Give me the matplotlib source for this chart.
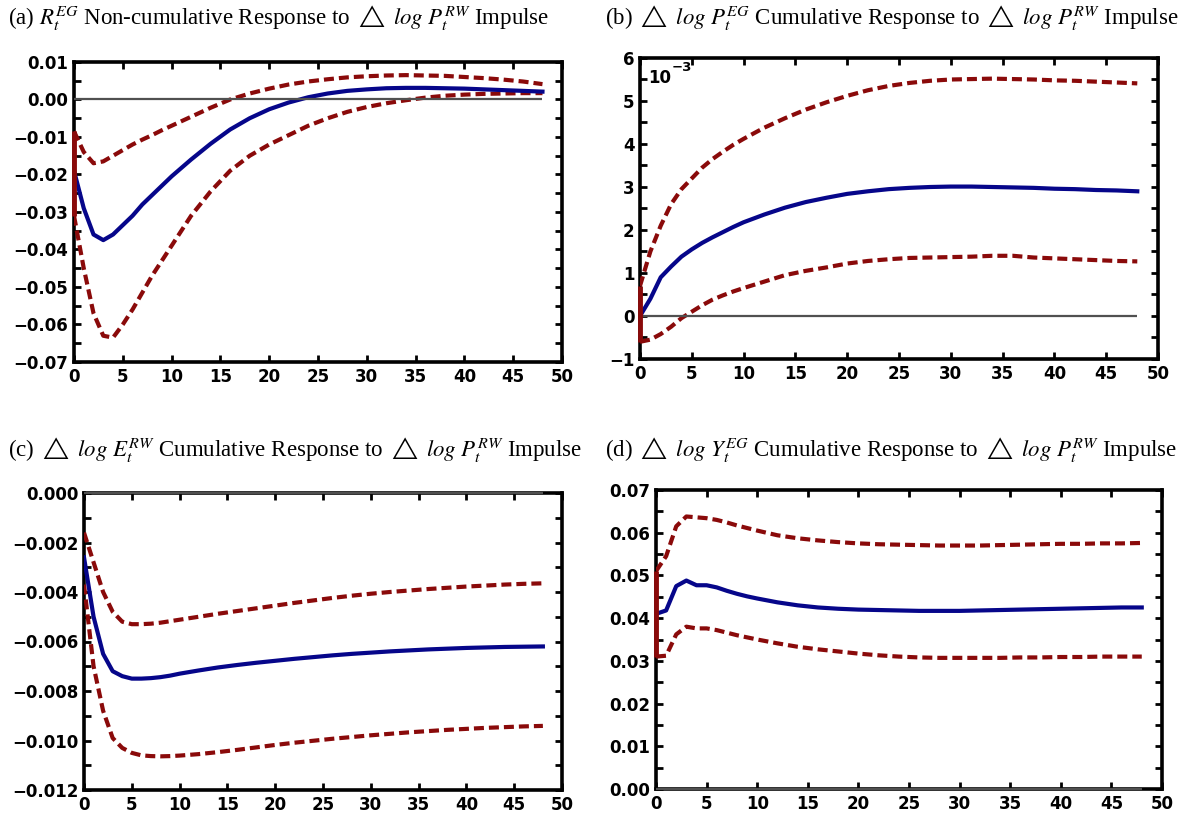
import numpy as np
import matplotlib.pyplot as plt
from matplotlib.ticker import MultipleLocator, FuncFormatter

# -----------------------------
# Datos de las funciones impulso-respuesta
# -----------------------------

horizonte = [0, 1, 2, 3, 4, 5, 6, 7, 8, 9, 10, 12, 14, 16, 18, 20, 22, 24,
             26, 28, 30, 32, 34, 36, 38, 40, 42, 44, 46, 48]

# (a) R^EG, no acumulada
media_a = [-0.019, -0.029, -0.036, -0.0375, -0.036, -0.0335, -0.031, -0.028,
           -0.0255, -0.023, -0.0205, -0.016, -0.0118, -0.008, -0.005, -0.0026,
           -0.0008, 0.0006, 0.0016, 0.0023, 0.0027, 0.003, 0.0031, 0.0031,
           0.003, 0.0029, 0.0027, 0.0025, 0.0023, 0.0021]
sup_a = [-0.0085, -0.014, -0.017, -0.0165, -0.015, -0.0135, -0.012, -0.0107,
         -0.0095, -0.0082, -0.007, -0.0046, -0.0022, 0.0, 0.0016, 0.0029,
         0.004, 0.0048, 0.0054, 0.0059, 0.0062, 0.0064, 0.0065, 0.0064,
         0.0063, 0.006, 0.0057, 0.0053, 0.0048, 0.0041]
inf_a = [-0.031, -0.045, -0.057, -0.063, -0.0635, -0.060, -0.056, -0.0515,
         -0.047, -0.043, -0.039, -0.031, -0.0245, -0.019, -0.015, -0.012,
         -0.0095, -0.007, -0.005, -0.0033, -0.002, -0.001, -0.0002, 0.0005,
         0.001, 0.0013, 0.0015, 0.0016, 0.0017, 0.0017]

# (b) log P^EG, acumulada (x 10^-3)
media_b = [0.0, 0.4, 0.9, 1.15, 1.38, 1.55, 1.7, 1.83, 1.95, 2.07, 2.18, 2.36,
           2.52, 2.65, 2.75, 2.84, 2.9, 2.95, 2.98, 3.0, 3.01, 3.01, 3.0,
           2.99, 2.98, 2.96, 2.95, 2.93, 2.92, 2.9]
sup_b = [0.7, 1.5, 2.1, 2.6, 2.95, 3.2, 3.45, 3.65, 3.82, 3.98, 4.12, 4.38,
         4.6, 4.8, 4.97, 5.12, 5.25, 5.35, 5.42, 5.47, 5.5, 5.51, 5.52, 5.51,
         5.5, 5.48, 5.47, 5.45, 5.43, 5.41]
inf_b = [-0.6, -0.55, -0.42, -0.25, -0.05, 0.1, 0.25, 0.38, 0.48, 0.57, 0.65,
         0.8, 0.95, 1.05, 1.13, 1.22, 1.28, 1.32, 1.35, 1.36, 1.37, 1.38, 1.4,
         1.4, 1.36, 1.34, 1.32, 1.3, 1.28, 1.27]

# (c) log E^RW, acumulada
media_c = [-0.0026, -0.0050, -0.0065, -0.0072, -0.0074, -0.0075, -0.0075,
           -0.00748, -0.00744, -0.00738, -0.0073, -0.00717, -0.00705,
           -0.00695, -0.00686, -0.00678, -0.0067, -0.00663, -0.00656,
           -0.0065, -0.00645, -0.0064, -0.00636, -0.00632, -0.00629,
           -0.00626, -0.00624, -0.00622, -0.00621, -0.0062]
sup_c = [-0.0016, -0.0028, -0.0040, -0.0048, -0.0052, -0.0053, -0.0053,
         -0.00528, -0.00524, -0.00518, -0.00512, -0.00500, -0.00488,
         -0.00477, -0.00466, -0.00455, -0.00444, -0.00434, -0.00424,
         -0.00415, -0.00407, -0.00400, -0.00394, -0.00388, -0.00383,
         -0.00378, -0.00374, -0.00370, -0.00367, -0.00365]
inf_c = [-0.0037, -0.0070, -0.0088, -0.0099, -0.0103, -0.0105, -0.0106,
         -0.01063, -0.01064, -0.01063, -0.01061, -0.01055, -0.01047,
         -0.01038, -0.01028, -0.01018, -0.01009, -0.01001, -0.00993,
         -0.00986, -0.00979, -0.00973, -0.00967, -0.00962, -0.00957,
         -0.00953, -0.00949, -0.00946, -0.00943, -0.00941]

# (d) log Y^EG, acumulada
media_d = [0.041, 0.0418, 0.0475, 0.0488, 0.0477, 0.0477, 0.0472, 0.0464,
           0.0457, 0.0451, 0.0446, 0.0437, 0.043, 0.0425, 0.0422, 0.042,
           0.0419, 0.0418, 0.0417, 0.0417, 0.0417, 0.0418, 0.0419, 0.042,
           0.0421, 0.0422, 0.0423, 0.0424, 0.0425, 0.0425]
sup_d = [0.051, 0.0545, 0.0615, 0.0638, 0.0636, 0.0634, 0.063, 0.0624,
         0.0617, 0.0611, 0.0605, 0.0594, 0.0587, 0.0582, 0.0578, 0.0575,
         0.0573, 0.0572, 0.0571, 0.057, 0.057, 0.057, 0.0571, 0.0572,
         0.0573, 0.0574, 0.0574, 0.0575, 0.0575, 0.0576]
inf_d = [0.031, 0.0312, 0.0362, 0.038, 0.0376, 0.0376, 0.0372, 0.0366,
         0.036, 0.0355, 0.035, 0.0341, 0.0333, 0.0327, 0.0322, 0.0317,
         0.0313, 0.031, 0.0308, 0.0307, 0.0307, 0.0307, 0.0307, 0.0308,
         0.0308, 0.0309, 0.0309, 0.031, 0.031, 0.031]

titulos = [
    r"(a) $R_t^{EG}$ Non-cumulative Response to $\triangle\ log\ P_t^{RW}$ Impulse",
    r"(b) $\triangle\ log\ P_t^{EG}$ Cumulative Response to $\triangle\ log\ P_t^{RW}$ Impulse",
    r"(c) $\triangle\ log\ E_t^{RW}$ Cumulative Response to $\triangle\ log\ P_t^{RW}$ Impulse",
    r"(d) $\triangle\ log\ Y_t^{EG}$ Cumulative Response to $\triangle\ log\ P_t^{RW}$ Impulse",
]

# -----------------------------
# Estilo
# -----------------------------

plt.rcParams["mathtext.fontset"] = "stix"

W, H = 1182, 814
azul = "#06068a"
rojo = "#8a0a0a"
gris = "#505050"


def formato(dec):
    def f(v, pos):
        if abs(v) < 1e-12:
            v = 0.0
        return f"{v:.{dec}f}".replace("-", "\u2212")
    return FuncFormatter(f)


def panel(caja, media, sup, inf, ylim, paso, dec, vertical=True):
    l, r, t, b = caja
    ax = fig.add_axes([l / W, 1 - b / H, (r - l) / W, (b - t) / H])

    ax.plot(horizonte, sup, color=rojo, lw=3, ls=(0, (2.4, 1.2)), zorder=3)
    ax.plot(horizonte, inf, color=rojo, lw=3, ls=(0, (2.4, 1.2)), zorder=3)
    ax.plot(horizonte, media, color=azul, lw=3, zorder=4)
    if vertical:
        ax.vlines(horizonte[0], inf[0], sup[0], color=rojo, lw=3.5,
                  zorder=6, clip_on=False)
    ax.hlines(0, horizonte[0], horizonte[-1], color=gris, lw=1.6,
              zorder=5, clip_on=False)

    ax.set_xlim(0, 50)
    ax.set_ylim(*ylim)
    ax.xaxis.set_major_locator(MultipleLocator(5))
    ax.yaxis.set_major_locator(MultipleLocator(paso))
    ax.yaxis.set_minor_locator(MultipleLocator(paso / 2))
    ax.yaxis.set_major_formatter(formato(dec))
    ax.xaxis.set_major_formatter(FuncFormatter(lambda v, p: f"{v:.0f}"))

    ax.tick_params(which="both", direction="in", top=True, right=True,
                   width=2, labelsize=12, pad=4)
    ax.tick_params(which="major", length=5)
    ax.tick_params(which="minor", length=5)
    for lab in ax.get_xticklabels() + ax.get_yticklabels():
        lab.set_fontweight("bold")
    for s in ax.spines.values():
        s.set_linewidth(2.6)
    return ax


fig = plt.figure(figsize=(W / 100, H / 100), dpi=100)

panel((74, 562, 62, 362), media_a, sup_a, inf_a, (-0.07, 0.01), 0.01, 2)
ax_b = panel((640, 1158, 58, 359), media_b, sup_b, inf_b, (-1, 6), 1, 0)
panel((84, 562, 493, 790), media_c, sup_c, inf_c, (-0.012, 0.0), 0.002, 3,
      vertical=False)
panel((656, 1162, 490, 789), media_d, sup_d, inf_d, (0.0, 0.07), 0.01, 2)

# factor de escala del panel (b)
ax_b.text(0.015, 0.965, "10", transform=ax_b.transAxes, ha="left",
          va="top", fontsize=12, fontweight="bold")
ax_b.text(0.062, 0.99, "\u22123", transform=ax_b.transAxes, ha="left",
          va="top", fontsize=9.5, fontweight="bold")

posiciones = [(8, 18), (605, 18), (8, 450), (605, 450)]
for (x, y), txt in zip(posiciones, titulos):
    fig.text(x / W, 1 - y / H, txt, ha="left", va="center",
             fontsize=16.5, family="Liberation Serif")

fig.savefig("out.png", dpi=100)
